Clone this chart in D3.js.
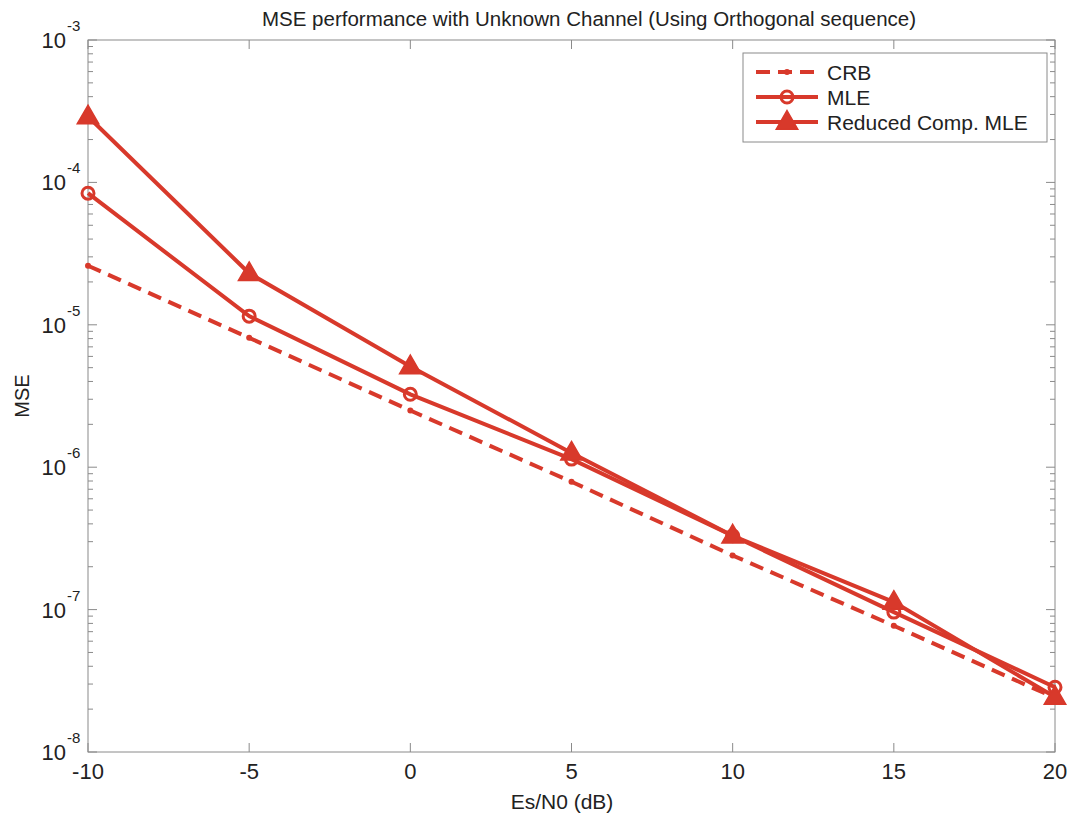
<!DOCTYPE html>
<html>
<head>
<meta charset="utf-8">
<script src="https://cdn.jsdelivr.net/npm/d3@7"></script>
<style>
  body { margin: 0; background: #fff; }
  svg { font-family: "Liberation Sans", Arial, sans-serif; }
</style>
</head>
<body>
<div id="chart"></div>
<script>
const snr = [-10, -5, 0, 5, 10, 15, 20];
const crb = [2.6e-5, 8.1e-6, 2.5e-6, 7.9e-7, 2.4e-7, 7.7e-8, 2.4e-8];
const mle = [8.4e-5, 1.15e-5, 3.25e-6, 1.14e-6, 3.3e-7, 9.6e-8, 2.85e-8];
const reduced = [2.9e-4, 2.3e-5, 5.1e-6, 1.26e-6, 3.3e-7, 1.13e-7, 2.43e-8];
const xTicks = [-10, -5, 0, 5, 10, 15, 20];
const yExps = [-3, -4, -5, -6, -7, -8];

const W = 1073, H = 819;
const margin = { top: 40, right: 18, bottom: 67, left: 88 };
const red = '#d8392b';

const svg = d3.select('#chart').append('svg')
  .attr('width', W).attr('height', H);

const x = d3.scaleLinear().domain([-10, 20]).range([margin.left, W - margin.right]);
const y = d3.scaleLog().domain([1e-8, 1e-3]).range([H - margin.bottom, margin.top]);

const x0 = margin.left, x1 = W - margin.right, y0 = H - margin.bottom, y1 = margin.top;

// minor log ticks
const minor = [];
for (let e = -8; e < -3; e++) {
  for (let m = 2; m <= 9; m++) minor.push(m * Math.pow(10, e));
}

const axisG = svg.append('g').attr('stroke', '#8a8a8a').attr('stroke-width', 1);
axisG.append('rect')
  .attr('x', x0).attr('y', y1).attr('width', x1 - x0).attr('height', y0 - y1)
  .attr('fill', 'none');

xTicks.forEach(t => {
  axisG.append('line').attr('x1', x(t)).attr('x2', x(t)).attr('y1', y0).attr('y2', y0 - 9);
  axisG.append('line').attr('x1', x(t)).attr('x2', x(t)).attr('y1', y1).attr('y2', y1 + 9);
});
yExps.forEach(e => {
  const v = Math.pow(10, e);
  axisG.append('line').attr('x1', x0).attr('x2', x0 + 9).attr('y1', y(v)).attr('y2', y(v));
  axisG.append('line').attr('x1', x1).attr('x2', x1 - 9).attr('y1', y(v)).attr('y2', y(v));
});
minor.forEach(v => {
  axisG.append('line').attr('x1', x0).attr('x2', x0 + 5).attr('y1', y(v)).attr('y2', y(v));
  axisG.append('line').attr('x1', x1).attr('x2', x1 - 5).attr('y1', y(v)).attr('y2', y(v));
});

// tick labels
svg.append('g').selectAll('text')
  .data(xTicks).join('text')
  .attr('x', d => x(d)).attr('y', y0 + 27)
  .attr('text-anchor', 'middle')
  .attr('font-size', 22).attr('fill', '#222')
  .text(d => d);

const ylab = svg.append('g');
ylab.selectAll('text.base')
  .data(yExps).join('text').attr('class', 'base')
  .attr('x', x0 - 22).attr('y', d => y(Math.pow(10, d)) + 8)
  .attr('text-anchor', 'end')
  .attr('font-size', 22).attr('fill', '#222')
  .text('10');
ylab.selectAll('text.exp')
  .data(yExps).join('text').attr('class', 'exp')
  .attr('x', x0 - 21).attr('y', d => y(Math.pow(10, d)) - 9)
  .attr('font-size', 15).attr('fill', '#222')
  .text(d => d);

// title and labels
svg.append('text').attr('x', 589).attr('y', 26)
  .attr('text-anchor', 'middle').attr('font-size', 20.5).attr('fill', '#222')
  .text('MSE performance with Unknown Channel (Using Orthogonal sequence)');
svg.append('text').attr('x', 562).attr('y', 809)
  .attr('text-anchor', 'middle').attr('font-size', 21).attr('fill', '#222')
  .text('Es/N0 (dB)');
svg.append('text')
  .attr('transform', 'translate(29,' + ((y0 + y1) / 2) + ') rotate(-90)')
  .attr('text-anchor', 'middle').attr('font-size', 20).attr('fill', '#222')
  .text('MSE');

const line = d3.line().x(d => x(d[0])).y(d => y(d[1]));
const zip = vals => snr.map((s, i) => [s, vals[i]]);

const triPath = d3.symbol().type(d3.symbolTriangle).size(200);

function drawSeries(vals, dash, marker) {
  const g = svg.append('g');
  g.append('path').datum(zip(vals))
    .attr('d', line).attr('fill', 'none')
    .attr('stroke', red).attr('stroke-width', 4)
    .attr('stroke-dasharray', dash);
  const pts = g.selectAll('.m').data(zip(vals)).join('g')
    .attr('transform', d => 'translate(' + x(d[0]) + ',' + y(d[1]) + ')');
  drawMarker(pts, marker);
}

function drawMarker(sel, marker) {
  if (marker === 'dot') {
    sel.append('circle').attr('r', 3).attr('fill', red);
  } else if (marker === 'circle') {
    sel.append('circle').attr('r', 6).attr('fill', 'none')
      .attr('stroke', red).attr('stroke-width', 3);
  } else {
    sel.append('path').attr('d', triPath).attr('transform', 'translate(0,1)')
      .attr('fill', red).attr('stroke', red).attr('stroke-width', 1.5);
  }
}

drawSeries(crb, '14,8', 'dot');
drawSeries(mle, null, 'circle');
drawSeries(reduced, null, 'tri');

// legend
const lg = svg.append('g');
lg.append('rect').attr('x', 743).attr('y', 53).attr('width', 304).attr('height', 89)
  .attr('fill', '#fff').attr('stroke', '#8a8a8a').attr('stroke-width', 1);
const items = [
  { name: 'CRB', dash: '14,8', marker: 'dot' },
  { name: 'MLE', dash: null, marker: 'circle' },
  { name: 'Reduced Comp. MLE', dash: null, marker: 'tri' }
];
items.forEach((it, i) => {
  const yy = 72 + i * 25;
  lg.append('line').attr('x1', 756).attr('x2', 818).attr('y1', yy).attr('y2', yy)
    .attr('stroke', red).attr('stroke-width', 4).attr('stroke-dasharray', it.dash);
  drawMarker(lg.append('g').attr('transform', 'translate(787,' + yy + ')'), it.marker);
  lg.append('text').attr('x', 827).attr('y', yy + 8)
    .attr('font-size', 21).attr('fill', '#222').text(it.name);
});
</script>
</body>
</html>
